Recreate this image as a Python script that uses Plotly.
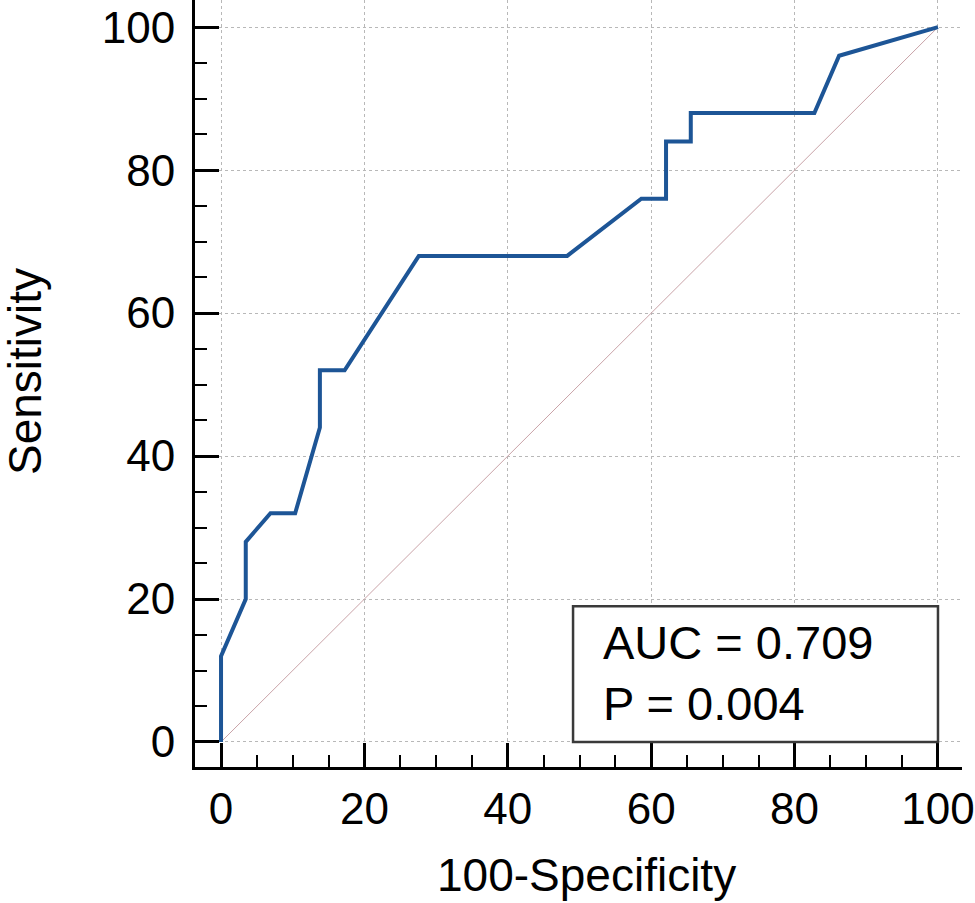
import plotly.graph_objects as go

# ROC curve points (100-Specificity, Sensitivity)
fpr = [0, 0, 3.45, 3.45, 6.90, 10.34, 13.79, 13.79, 17.24, 27.59, 48.28,
       58.62, 62.07, 62.07, 65.52, 65.52, 82.76, 86.21, 100]
tpr = [0, 12, 20, 28, 32, 32, 44, 52, 52, 68, 68,
       76, 76, 84, 84, 88, 88, 96, 100]

diag_x = [0, 100]
diag_y = [0, 100]

tick_vals = [0, 20, 40, 60, 80, 100]
tick_text = ["0", "20", "40", "60", "80", "100"]

auc_text = "AUC = 0.709"
p_text = "P = 0.004"

FONT = "Liberation Sans, Arial, sans-serif"

fig = go.Figure()
fig.add_trace(go.Scatter(x=diag_x, y=diag_y, mode="lines",
                         line=dict(color="#c9a3a8", width=1),
                         showlegend=False, hoverinfo="skip"))
fig.add_trace(go.Scatter(x=fpr, y=tpr, mode="lines",
                         line=dict(color="#1d5596", width=4),
                         showlegend=False))

axis_common = dict(
    tickvals=tick_vals, ticktext=tick_text,
    showgrid=True, gridcolor="#b8b8b8", griddash="dot", gridwidth=1,
    zeroline=False, showline=True, linecolor="black", linewidth=3,
    ticks="inside", ticklen=24, tickwidth=3, tickcolor="black",
    minor=dict(dtick=5, tick0=0, ticks="inside", ticklen=12, tickwidth=1.5,
               tickcolor="black", showgrid=False),
    tickfont=dict(family=FONT, size=44, color="black"),
    automargin=False,
)

fig.update_xaxes(range=[-3.63, 103.35], ticklabelstandoff=1, **axis_common)
fig.update_yaxes(range=[-3.5, 103.8], ticklabelstandoff=8, **axis_common)

# legend box with AUC and P
fig.add_shape(type="rect", xref="x", yref="y", x0=49.1, x1=100, y0=0, y1=19,
              line=dict(color="#3a3a3a", width=2.5), fillcolor="white", layer="above")
fig.add_annotation(xref="x", yref="y", x=53.0, y=9.6, xanchor="left", yanchor="middle",
                   text=auc_text + "<br>" + p_text, showarrow=False, align="left",
                   font=dict(family=FONT, size=47, color="black"))

# axis titles
fig.add_annotation(xref="paper", yref="paper", x=(586 - 195) / 767, y=-(875 - 767) / 767,
                   xanchor="center", yanchor="middle", text="100-Specificity",
                   showarrow=False, font=dict(family=FONT, size=46, color="black"))
fig.add_annotation(xref="paper", yref="paper", x=-(195 - 25) / 767, y=(767 - 372) / 767,
                   xanchor="center", yanchor="middle", text="Sensitivity", textangle=-90,
                   showarrow=False, font=dict(family=FONT, size=46, color="black"))

fig.update_layout(
    width=975, height=903,
    margin=dict(l=195, r=13, t=0, b=136),
    paper_bgcolor="white", plot_bgcolor="white",
    showlegend=False,
)

fig.write_html("out.html", config={"displayModeBar": False},
               post_script="document.body.style.margin='0';")
